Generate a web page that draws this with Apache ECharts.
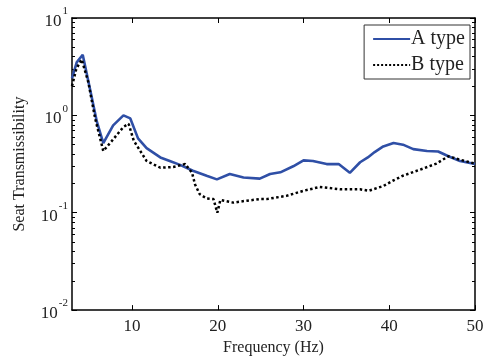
<!DOCTYPE html>
<html>
<head>
<meta charset="utf-8">
<script src="https://cdn.jsdelivr.net/npm/echarts@6/dist/echarts.min.js"></script>
<style>
html, body { margin: 0; padding: 0; background: #fff; }
#chart { width: 493px; height: 361px; }
</style>
</head>
<body>
<div id="chart"></div>
<script>
// frequency (Hz) / transmissibility
var freqA = [3, 3.55, 4.25, 5.1, 5.9, 6.65, 7.8, 9.0, 9.8, 10.7, 11.7, 13.3, 14.4, 15.6, 17.1, 18.7, 19.9, 21.4, 23.0, 24.9, 26.1, 27.3, 28.8, 30.0, 31.1, 32.7, 34.1, 35.4, 36.6, 37.5, 38.3, 39.3, 40.5, 41.6, 42.8, 44.4, 45.7, 46.9, 48.25, 50];
var valA = [2.4, 3.5, 4.2, 1.86, 0.86, 0.52, 0.79, 1.0, 0.93, 0.58, 0.46, 0.37, 0.34, 0.31, 0.27, 0.24, 0.22, 0.25, 0.23, 0.224, 0.25, 0.26, 0.30, 0.345, 0.34, 0.316, 0.316, 0.257, 0.33, 0.37, 0.42, 0.48, 0.52, 0.50, 0.45, 0.43, 0.425, 0.38, 0.34, 0.316];

var freqB = [3, 3.5, 4.13, 4.9, 5.7, 6.65, 7.6, 9.0, 9.6, 10.2, 11.7, 13.3, 14.8, 16.2, 17.0, 17.35, 17.9, 18.7, 19.5, 19.95, 20.3, 21.8, 23.4, 24.9, 25.7, 28.0, 30.0, 31.9, 34.3, 36.6, 37.6, 39.3, 40.5, 41.6, 43.6, 45.5, 46.9, 48.25, 50];
var valB = [2.0, 3.0, 3.75, 2.2, 0.93, 0.43, 0.54, 0.76, 0.82, 0.55, 0.34, 0.29, 0.295, 0.316, 0.257, 0.195, 0.155, 0.14, 0.138, 0.10, 0.135, 0.127, 0.133, 0.138, 0.138, 0.149, 0.168, 0.184, 0.174, 0.174, 0.168, 0.188, 0.215, 0.24, 0.277, 0.32, 0.38, 0.35, 0.32];

var xTicks = [10, 20, 30, 40, 50];
var yMajor = [0.01, 0.1, 1, 10];
var yMinor = [];
[0.01, 0.1, 1].forEach(function (d) {
    for (var k = 2; k <= 9; k++) {
        yMinor.push(+(d * k).toPrecision(3));
    }
});

function pairs(xs, ys) {
    var out = [];
    for (var i = 0; i < xs.length; i++) {
        out.push([xs[i], ys[i]]);
    }
    return out;
}

var serif = 'Liberation Serif';
var txt = '#222';
var chart = echarts.init(document.getElementById('chart'));

function xAx(pos, labels) {
    return {
        type: 'value', position: pos, min: 3, max: 50,
        axisLine: { show: true, lineStyle: { color: '#000', width: 1.5 } },
        axisTick: { show: true, inside: true, length: 5, customValues: xTicks, lineStyle: { color: '#000' } },
        axisLabel: {
            show: labels, customValues: xTicks, margin: 8,
            fontFamily: serif, fontSize: 17, color: txt
        },
        splitLine: { show: false },
        name: labels ? 'Frequency (Hz)' : '',
        nameLocation: 'middle', nameGap: 28,
        nameTextStyle: { fontFamily: serif, fontSize: 16, color: txt }
    };
}

function yAx(pos, minor, labels) {
    return {
        type: 'log', logBase: 10, position: pos, min: 0.01, max: 10,
        axisLine: { show: !minor, lineStyle: { color: '#000', width: 1.5 } },
        axisTick: {
            show: true, inside: true, length: minor ? 3 : 5,
            customValues: minor ? yMinor : yMajor,
            lineStyle: { color: '#000' }
        },
        axisLabel: {
            show: labels, customValues: yMajor, margin: 4,
            formatter: function (v) {
                return '{b|10}{s|' + Math.round(Math.log10(v)) + '}';
            },
            rich: {
                b: { fontFamily: serif, fontSize: 17, color: txt, lineHeight: 24, verticalAlign: 'bottom' },
                s: { fontFamily: serif, fontSize: 11, color: txt, lineHeight: 24, verticalAlign: 'top', padding: [0, 0, 0, 1] }
            }
        },
        splitLine: { show: false },
        name: labels ? 'Seat Transmissibility' : '',
        nameLocation: 'middle', nameGap: 44,
        nameTextStyle: { fontFamily: serif, fontSize: 16, color: txt }
    };
}

var option = {
    backgroundColor: '#fff',
    animation: false,
    grid: { left: 72, top: 18, right: 18, bottom: 47 },
    legend: {
        orient: 'vertical', right: 23, top: 25,
        backgroundColor: '#fff', borderColor: '#333', borderWidth: 1,
        padding: [4, 5, 4, 8], itemGap: 6, itemWidth: 37, itemHeight: 14,
        itemStyle: { color: 'rgba(0,0,0,0)', borderColor: 'rgba(0,0,0,0)', borderWidth: 0, opacity: 0 },
        textStyle: { fontFamily: serif, fontSize: 20, color: txt, padding: [0, 0, 0, -4] },
        data: ['A type', 'B type']
    },
    xAxis: [xAx('bottom', true), xAx('top', false)],
    yAxis: [
        yAx('left', false, true),
        yAx('left', true, false),
        yAx('right', false, false),
        yAx('right', true, false)
    ],
    series: [{
        name: 'A type', type: 'line', symbol: 'none',
        xAxisIndex: 0, yAxisIndex: 0,
        lineStyle: { color: '#2f4fa6', width: 2.6 },
        itemStyle: { color: '#2f4fa6' },
        data: pairs(freqA, valA)
    }, {
        name: 'B type', type: 'line', symbol: 'none',
        xAxisIndex: 0, yAxisIndex: 0,
        lineStyle: { color: '#000', width: 2.5, type: 'dotted' },
        itemStyle: { color: '#000' },
        data: pairs(freqB, valB)
    }]
};

chart.setOption(option);
</script>
</body>
</html>
